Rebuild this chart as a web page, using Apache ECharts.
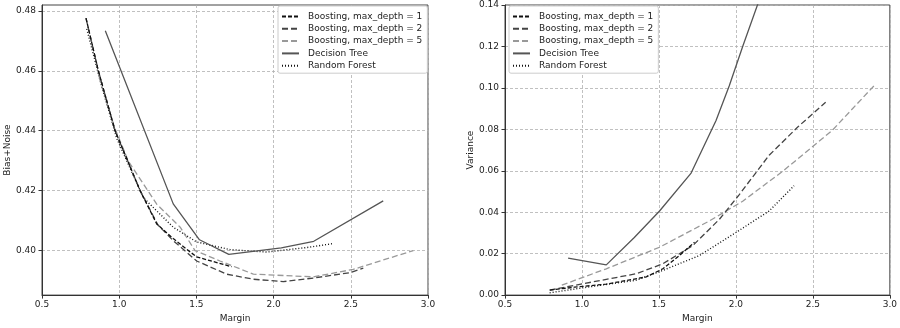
<!DOCTYPE html>
<html><head><meta charset="utf-8">
<script src="https://cdn.jsdelivr.net/npm/echarts@6/dist/echarts.min.js"></script>
<style>html,body{margin:0;padding:0;background:#fff}#c{width:900px;height:328px}</style>
</head><body><div id="c"></div>
<script>
// ---- Data: Bias+Noise (left) ----
var biasD1X = [0.785, 0.865, 0.973, 1.135, 1.243, 1.35, 1.50, 1.728];
var biasD1Y = [0.4776, 0.460, 0.440, 0.420, 0.4088, 0.4039, 0.3978, 0.3945];
var biasD2X = [0.785, 0.865, 0.973, 1.135, 1.25, 1.35, 1.502, 1.696, 1.869, 2.063, 2.257, 2.495, 2.581];
var biasD2Y = [0.4776, 0.460, 0.440, 0.420, 0.4085, 0.4032, 0.3964, 0.392, 0.3903, 0.3895, 0.3907, 0.3925, 0.394];
var biasD5X = [0.87, 0.97, 1.06, 1.243, 1.395, 1.491, 1.653, 1.869, 2.257, 2.516, 2.905];
var biasD5Y = [0.4578, 0.441, 0.4297, 0.4154, 0.4077, 0.3999, 0.3964, 0.392, 0.3911, 0.3936, 0.3999];
var biasDTX = [0.91, 1.35, 1.52, 1.71, 2.05, 2.26, 2.71];
var biasDTY = [0.4734, 0.4155, 0.4035, 0.3986, 0.4008, 0.403, 0.4165];
var biasRFX = [0.79, 0.88, 0.984, 1.156, 1.35, 1.50, 1.718, 1.955, 2.214, 2.383];
var biasRFY = [0.474, 0.456, 0.4374, 0.4176, 0.4077, 0.4028, 0.4002, 0.3994, 0.4009, 0.4022];
// ---- Data: Variance (right) ----
var varD1X = [0.791, 0.95, 1.158, 1.418, 1.525, 1.633, 1.731];
var varD1Y = [0.0024, 0.0038, 0.0053, 0.0088, 0.0127, 0.0191, 0.0255];
var varD2X = [0.79, 1.072, 1.353, 1.525, 1.72, 1.893, 2.022, 2.216, 2.40, 2.583];
var varD2Y = [0.0024, 0.0064, 0.0103, 0.0151, 0.0239, 0.0366, 0.0485, 0.0675, 0.081, 0.0931];
var varD5X = [0.869, 1.158, 1.504, 1.828, 2.044, 2.303, 2.626, 2.907];
var varD5Y = [0.0048, 0.0127, 0.0231, 0.0358, 0.0453, 0.0597, 0.0795, 0.1018];
var varDTX = [0.91, 1.158, 1.34, 1.504, 1.709, 1.871, 1.957, 2.044, 2.26, 2.71];
var varDTY = [0.0178, 0.0146, 0.0278, 0.0406, 0.0589, 0.0843, 0.101, 0.120, 0.165, 0.26];
var varRFX = [0.79, 1.05, 1.353, 1.525, 1.763, 2.0, 2.216, 2.378];
var varRFY = [0.0011, 0.004, 0.0072, 0.0119, 0.0191, 0.0302, 0.0406, 0.0528];
// ---- Labels ----
var names = ['Boosting, max_depth = 1', 'Boosting, max_depth = 2', 'Boosting, max_depth = 5', 'Decision Tree', 'Random Forest'];
var biasTicks = [0.40, 0.42, 0.44, 0.46, 0.48];
var xLabel = 'Margin', biasLabel = 'Bias+Noise', varLabel = 'Variance';

function pairs(xs, ys) { return xs.map(function (x, i) { return [x, ys[i]]; }); }
var styles = [
  { color: '#111', type: [4, 2], width: 1.3 },
  { color: '#444', type: [6, 3], width: 1.3 },
  { color: '#999', type: [6, 3], width: 1.3 },
  { color: '#555', type: 'solid', width: 1.3 },
  { color: '#111', type: [1, 2], width: 1.4 }
];
var biasData = [pairs(biasD1X, biasD1Y), pairs(biasD2X, biasD2Y), pairs(biasD5X, biasD5Y), pairs(biasDTX, biasDTY), pairs(biasRFX, biasRFY)];
var varData = [pairs(varD1X, varD1Y), pairs(varD2X, varD2Y), pairs(varD5X, varD5Y), pairs(varDTX, varDTY), pairs(varRFX, varRFY)];

var FONT = 'DejaVu Sans';
var series = [];
[biasData, varData].forEach(function (set, gi) {
  set.forEach(function (d, i) {
    series.push({
      type: 'line', name: names[i], data: d, xAxisIndex: gi, yAxisIndex: gi,
      symbol: 'none', showSymbol: false, silent: true, animation: false, clip: true,
      lineStyle: { color: styles[i].color, type: styles[i].type, width: styles[i].width },
      itemStyle: { color: styles[i].color },
      z: 10 - i
    });
  });
});

function xAxis(gi) {
  return {
    type: 'value', gridIndex: gi, min: 0.5, max: 3.0, interval: 0.5,
    name: xLabel, nameLocation: 'middle', nameGap: 18,
    nameTextStyle: { fontFamily: FONT, fontSize: 9, color: '#222' },
    axisLine: { show: true, onZero: false, lineStyle: { color: '#333', width: 1 } },
    axisTick: { show: true, length: 3.5, lineStyle: { color: '#333' } },
    axisLabel: { fontFamily: FONT, fontSize: 9, color: '#222', margin: 5, formatter: function (v) { return v.toFixed(1); } },
    splitLine: { show: true, lineStyle: { color: '#b0b0b0', type: [3, 2], width: 0.8 } }
  };
}
var legendBase = {
  orient: 'vertical', top: 6, itemWidth: 17, itemHeight: 10, itemGap: 3.3,
  padding: [6, 5, 3, 3], backgroundColor: '#fff', borderColor: '#ccc', borderWidth: 1, borderRadius: 2,
  itemStyle: { color: 'rgba(0,0,0,0)', borderWidth: 0, opacity: 0 },
  textStyle: { fontFamily: FONT, fontSize: 9, color: '#222', padding: [0, 0, 0, 4] },
  data: names, selectedMode: false
};
var option = {
  animation: false,
  backgroundColor: '#fff',
  grid: [
    { left: 42, top: 5, width: 386, height: 293, show: true, borderColor: '#444', borderWidth: 1, backgroundColor: 'transparent' },
    { left: 505, top: 5, width: 386, height: 293, show: true, borderColor: '#444', borderWidth: 1, backgroundColor: 'transparent' }
  ],
  legend: [
    Object.assign({}, legendBase, { left: 278 }),
    Object.assign({}, legendBase, { left: 509 })
  ],
  xAxis: [xAxis(0), xAxis(1)],
  yAxis: [
    {
      type: 'value', gridIndex: 0, min: 0.385, max: 0.482,
      name: biasLabel, nameLocation: 'middle', nameGap: 30,
      nameTextStyle: { fontFamily: FONT, fontSize: 9, color: '#222' },
      axisLine: { show: true, lineStyle: { color: '#333' } },
      axisTick: { show: true, length: 3.5, customValues: biasTicks, lineStyle: { color: '#333' } },
      axisLabel: { fontFamily: FONT, fontSize: 9, color: '#222', margin: 6, customValues: biasTicks, formatter: function (v) { return v.toFixed(2); } },
      splitLine: { show: true, lineStyle: { color: '#b0b0b0', type: [3, 2], width: 0.8 } }
    },
    {
      type: 'value', gridIndex: 1, min: 0, max: 0.14, interval: 0.02,
      name: varLabel, nameLocation: 'middle', nameGap: 30,
      nameTextStyle: { fontFamily: FONT, fontSize: 9, color: '#222' },
      axisLine: { show: true, lineStyle: { color: '#333' } },
      axisTick: { show: true, length: 3.5, lineStyle: { color: '#333' } },
      axisLabel: { fontFamily: FONT, fontSize: 9, color: '#222', margin: 6, formatter: function (v) { return v.toFixed(2); } },
      splitLine: { show: true, lineStyle: { color: '#b0b0b0', type: [3, 2], width: 0.8 } }
    }
  ],
  series: series
};
var chart = echarts.init(document.getElementById('c'), null, { renderer: 'canvas' });
chart.setOption(option);
</script>
</body></html>
